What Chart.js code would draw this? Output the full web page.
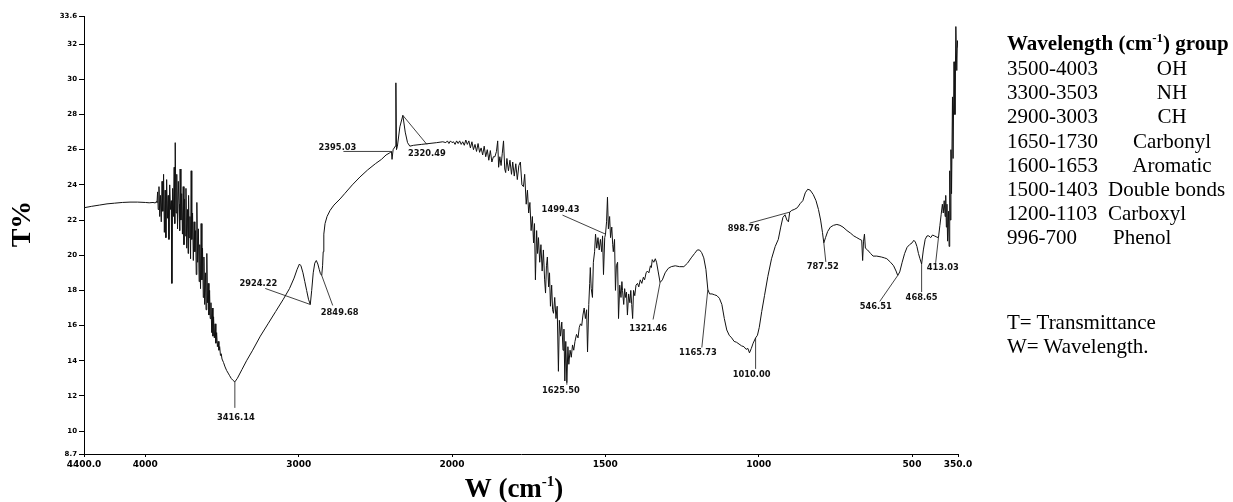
<!DOCTYPE html>
<html>
<head>
<meta charset="utf-8">
<title>FTIR spectrum</title>
<script src="https://cdn.jsdelivr.net/npm/chart.js@4.4.1/dist/chart.umd.min.js"></script>
<style>
  html, body { margin: 0; padding: 0; background: #fff; }
  #wrap { position: relative; width: 1233px; height: 502px; overflow: hidden; background: #fff; }
  #c { position: absolute; left: 0; top: 0; }
  .side { position: absolute; left: 1007px; font-family: 'Liberation Serif', 'Times New Roman', serif;
          font-size: 21px; color: #000; white-space: nowrap; }
  #groups { top: 30px; }
  #groups .head { font-weight: bold; line-height: 26px; }
  #groups .head sup { font-size: 13px; line-height: 0; vertical-align: 8px; }
  #groups .row { line-height: 24.2px; }
  #groups .rng { display: inline-block; width: 101px; }
  #groups .grp { display: inline-block; width: 128px; }
  #groups .grp.c { text-align: center; }
  #groups .grp.l { text-align: left; }
  #groups .grp.p { text-align: left; padding-left: 5px; }
  #notes { top: 310px; line-height: 24px; }
</style>
</head>
<body>
<div id="wrap">
  <canvas id="c" width="1233" height="502"></canvas>
  <div id="groups" class="side"></div>
  <div id="notes" class="side"></div>
</div>
<script>
// ---- spectrum, [wavenumber cm-1, transmittance %], high to low wavenumber ----
const SEG_BASELINE = [
  [4400,22.70],[4350,22.78],[4300,22.85],[4250,22.92],[4200,22.96],[4150,23.00],[4100,23.02],
  [4050,23.02],[4000,23.00],[3975,22.98],[3950,23.00],[3935,22.97],[3928,23.05]
];
const SEG_OH_NOISE = [
  [3924,23.0],[3920,23.6],[3916,22.6],[3911,23.9],[3906,22.2],[3901,23.4],[3896,21.9],[3891,24.2],
  [3886,22.5],[3881,24.6],[3876,21.3],[3871,23.7],[3866,21.0],[3861,24.3],[3856,22.1],[3851,23.4],
  [3846,20.9],[3841,24.0],[3836,22.6],[3831,23.1],[3827,18.4],[3822,23.8],[3817,22.2],[3812,25.0],
  [3808,21.8],[3805,26.4],[3800,22.4],[3795,24.6],[3790,21.5],[3785,24.2],[3780,22.9],[3776,21.4],
  [3773,24.9],[3768,22.0],[3763,23.5],[3758,21.2],[3753,23.9],[3748,20.6],[3744,23.2],[3740,21.1],
  [3735,23.8],[3730,20.4],[3725,22.6],[3721,20.1],[3718,23.4],[3714,21.0],[3709,22.2],[3705,19.8],
  [3701,24.8],[3697,20.9],[3692,22.4],[3687,19.7],[3682,21.9],[3677,20.2],[3672,21.4],[3668,18.9],
  [3664,23.0],[3659,19.6],[3654,21.5],[3649,18.5],[3645,20.6],[3640,18.1],[3636,21.8],[3631,18.6],
  [3627,20.4],[3622,17.6],[3618,19.9],[3613,17.2],[3608,19.0],[3604,16.9],[3599,20.1],[3595,17.3],
  [3590,18.4],[3585,16.6],[3581,18.0],[3577,16.4],[3572,17.3],[3567,15.6],[3563,17.0],[3559,15.4],
  [3555,16.5],[3550,15.3],[3545,16.1],[3540,15.0],[3535,15.6],[3530,14.8],[3525,15.1],[3520,14.6],
  [3515,14.8],[3510,14.3],[3505,14.4],[3500,14.1]
];
const SEG_OH_BAND = [
  [3490,13.9],[3480,13.65],[3470,13.45],[3460,13.3],[3450,13.15],[3440,13.0],[3430,12.9],
  [3416.14,12.8],[3400,13.0],[3370,13.5],[3340,14.0],[3300,14.6],[3250,15.4],[3200,16.1],
  [3150,16.8],[3100,17.5],[3060,18.1],[3030,18.7],[3010,19.2],[2995,19.5]
];
const SEG_CH = [
  [2985,19.4],[2972,19.0],[2960,18.5],[2948,18.0],[2936,17.5],[2924.22,17.2],[2915,18.0],[2905,19.0],
  [2895,19.55],[2885,19.7],[2875,19.5],[2866,19.2],[2858,18.95],[2849.68,18.85],[2844,19.4],
  [2840,20.2],[2836,21.2],[2828,21.8],[2815,22.2],[2795,22.55],[2770,22.85],[2730,23.2],
  [2700,23.5],[2650,24.0],[2600,24.45],[2550,24.85],[2500,25.2],[2460,25.45],[2430,25.7],
  [2410,25.8],[2400,25.85]
];
const SEG_CO2 = [
  [2395.03,25.9],[2391,25.45],[2384,26.0],[2370,26.2],[2366,29.8],[2362,26.0],[2356,26.2],
  [2340,27.3],[2320.49,27.95],[2305,27.0],[2290,26.4],[2275,26.2],[2250,26.25],[2200,26.3],
  [2150,26.35],[2100,26.4],[2060,26.45],[2040,26.4],[2030,26.5],[2020,26.35],[2010,26.5],[2000,26.4]
];
const SEG_AMIDE_NOISE = [
  [1995,26.45],[1990,26.3],[1985,26.5],[1980,26.35],[1975,26.5],[1970,26.3],[1965,26.45],[1960,26.25],
  [1955,26.55],[1950,26.3],[1945,26.5],[1940,26.1],[1935,26.45],[1930,26.0],[1925,26.3],[1920,25.9],
  [1915,26.35],[1910,25.85],[1905,26.1],[1900,25.7],[1895,26.2],[1890,25.6],[1885,26.0],[1880,25.4],
  [1875,25.95],[1870,25.3],[1865,25.6],[1860,25.6],[1855,25.9],[1851,26.5],[1848,25.0],[1844,25.6],
  [1840,25.1],[1836,25.8],[1832,26.5],[1828,24.9],[1825,24.7],[1821,25.5],[1816,24.8],[1811,25.4],
  [1806,24.6],[1802,25.3],[1797,24.5],[1792,25.2],[1787,24.3],[1782,25.1],[1777,25.3],[1772,24.0],
  [1767,23.9],[1763,24.6],[1758,22.9],[1754,23.7],[1750,22.4],[1746,23.0],[1742,21.4],[1738,22.2],
  [1734,20.7],[1731,21.8],[1728,18.6],[1724,21.4],[1721,20.1],[1718,21.0],[1714,19.6],[1710,20.6],
  [1706,19.1],[1702,20.3],[1698,18.6],[1695,17.85],[1692,19.4],[1689,19.9],[1685,18.2],[1682,19.0],
  [1679,17.1],[1675,18.3],[1672,16.9],[1669,16.7],[1665,17.6],[1661,16.4],[1657,17.1],[1653,13.4],
  [1650,16.3],[1646,15.4],[1642,16.2],[1638,14.6],[1635,15.8],[1632,12.85],[1629,15.1],[1625.50,12.75],
  [1622,14.8],[1619,13.8],[1615,14.6],[1611,14.2],[1607,14.9],[1603,14.6],[1599,15.1],[1594,15.5],
  [1589,15.3],[1585,15.9],[1581,16.1],[1577,16.0],[1573,16.6],[1569,17.0],[1565,16.4],[1561,16.9],
  [1558,14.5],[1554,17.2],[1551,18.4],[1549,19.3],[1546,18.1],[1542,17.6],[1539,19.6],[1535,20.2],
  [1532,21.2],[1528,20.4],[1524,21.0],[1520,20.3],[1516,20.9],[1512,20.2],[1509,21.1],[1506,18.9],
  [1502,21.0],[1499.43,21.2],[1496,21.9],[1493,23.3],[1490,21.5],[1486,22.2],[1483,21.0],[1479,21.6],
  [1476,20.6],[1474,20.2],[1470,20.9],[1467,18.0],[1464,19.4],[1460,19.6],[1457,16.4],[1453,18.3],
  [1449,17.6],[1446,18.5],[1444,18.0],[1440,17.2],[1437,18.1],[1434,17.6],[1431,17.9],[1428,16.6],
  [1424,17.8],[1420,17.3],[1417,18.0],[1414,17.2],[1411,16.4],[1408,18.0],[1404,17.7],[1400,18.3],
  [1395,18.4],[1391,18.2],[1386,18.6],[1381,18.4],[1376,18.75],[1372,18.6],[1367,19.0],[1363,19.1],
  [1358,19.0],[1353,19.4],[1350,19.3],[1347,19.75],[1342,19.6],[1337,19.8],[1333,19.6],[1328,19.1]
];
const SEG_FINGERPRINT = [
  [1321.46,18.45],[1314,18.6],[1305,19.0],[1295,19.25],[1285,19.35],[1272,19.4],[1258,19.35],
  [1244,19.35],[1232,19.55],[1220,19.85],[1209,20.1],[1200,20.3],[1193,20.3],[1186,20.15],
  [1179,19.85],[1172,19.2],[1165.73,18.05],[1160,17.8],[1152,17.8],[1144,17.75],[1136,17.7],
  [1128,17.55],[1120,17.2],[1112,16.4],[1104,15.75],[1096,15.45],[1088,15.3],[1080,15.1],
  [1072,15.05],[1064,14.95],[1056,14.85],[1048,14.8],[1041,14.65],[1035,14.7],[1030,14.45],
  [1024,14.7],[1018,15.0],[1010.00,15.3],[1004,15.45],[998,15.9],[990,16.8],[981,17.7],[970,18.8],
  [958,19.8],[946,20.5],[936,20.9],[928,21.6],[921,22.15],[914,22.3],[908,22.0],[903,21.9],
  [898.76,22.45],[892,22.55],[884,22.6],[874,22.7],[864,22.95],[856,23.1],[848,23.55],[840,23.75],
  [832,23.7],[822,23.45],[813,23.1],[805,22.6],[798,22.0],[792,21.3],[787.52,20.7],[782,21.0],
  [775,21.35],[766,21.6],[756,21.7],[745,21.75],[735,21.7],[725,21.6],[712,21.4],[700,21.25],
  [690,21.1],[680,21.0],[670,20.9],[664,20.85],[661,19.7],[658,20.8],[655,21.2],[652,20.4],
  [645,20.3],[635,20.1],[627,19.95],[615,19.95],[600,19.9],[590,19.85],[582,19.8],[570,19.6],
  [560,19.4],[552,19.1],[546.51,18.85],[540,19.05],[532,19.6],[524,20.1],[516,20.45],[508,20.6],
  [500,20.7],[494,20.85],[489,20.75],[484,20.5],[479,20.1],[474,19.8],[468.65,19.5],[463,20.3],
  [457,20.9],[451,21.1],[445,21.1],[439,21.0],[433,21.15],[427,21.1],[421,21.05],[416,21.0],
  [413.03,21.1],[409,21.7],[405,22.3],[401,22.9],[398,22.4],[395,23.1],[392,22.2],[390,23.4],
  [388,21.6],[386,22.9],[384,20.8],[381,22.5],[379,20.5],[377,24.8],[375,22.0],[373,26.0],
  [371,23.5],[368,29.0],[366,25.5],[363,31.0],[360,28.0],[357,33.0],[354,30.5],[352,32.2],[350,31.8]
];

// ---- labelled band positions (cm-1) ----
const PEAKS = [3416.14, 2924.22, 2849.68, 2395.03, 2320.49, 1625.50, 1499.43, 1321.46,
               1165.73, 1010.00, 898.76, 787.52, 546.51, 468.65, 413.03];

// ---- axis ticks ----
const X_TICKS = [4400, 4000, 3000, 2000, 1500, 1000, 500, 350];
const X_TICK_LABELS = ['4400.0', '4000', '3000', '2000', '1500', '1000', '500', '350.0'];
const Y_TICKS = [8.7, 10, 12, 14, 16, 18, 20, 22, 24, 26, 28, 30, 32, 33.6];
const Y_TICK_LABELS = ['8.7', '10', '12', '14', '16', '18', '20', '22', '24', '26', '28', '30', '32', '33.6'];

// ---- functional group table ----
const RANGES = ['3500-4003', '3300-3503', '2900-3003', '1650-1730', '1600-1653', '1500-1403', '1200-1103', '996-700'];
const GROUPS = ['OH', 'NH', 'CH', 'Carbonyl', 'Aromatic', 'Double bonds', 'Carboxyl', 'Phenol'];
const NOTES = ['T= Transmittance', 'W= Wavelength.'];

// ---- presentation ----
const GROUP_ALIGN = ['c', 'c', 'c', 'c', 'c', 'l', 'l', 'p'];
// label text offset (dx, dy) and leader end (dx, dy), px from the band point
const PEAK_LAYOUT = [
  [1, 36, 0, 26], [-52, -21, -45, -16], [18, 37, 11, 30], [-54, -4, -48, 0],
  [24, 38, 24, 29], [-6, 8, 0, 2], [-45, -24, -43, -19], [-12, 46, -7, 37],
  [-10, 63, -6, 58], [-4, 37, 0, 31], [-46, 17, -40, 11], [-1, 24, 2, 19],
  [-22, 31, -18, 26], [0, 34, 0, 28], [4, 32, -3, 27]
];

const SPECTRUM = [].concat(SEG_BASELINE, SEG_OH_NOISE, SEG_OH_BAND, SEG_CH, SEG_CO2,
                           SEG_AMIDE_NOISE, SEG_FINGERPRINT);

// Wavenumber axis as printed by the spectrometer: 4400-2000 cm-1 at half the
// density of 2000-350 cm-1.
const WN_HIGH = 4400, WN_BREAK = 2000, WN_LOW = 350;
class SplitWavenumberScale extends Chart.LinearScale {
  _unit(v) {
    return v >= WN_BREAK ? (WN_HIGH - v) * 0.5 : (WN_HIGH - WN_BREAK) * 0.5 + (WN_BREAK - v);
  }
  _fromUnit(u) {
    const h = (WN_HIGH - WN_BREAK) * 0.5;
    return u <= h ? WN_HIGH - u * 2 : WN_BREAK - (u - h);
  }
  getPixelForValue(v) {
    return this.getPixelForDecimal(this._unit(v) / this._unit(WN_LOW));
  }
  getValueForPixel(p) {
    return this._fromUnit(this.getDecimalForPixel(p) * this._unit(WN_LOW));
  }
}
SplitWavenumberScale.id = 'splitwn';
SplitWavenumberScale.defaults = {};
Chart.register(SplitWavenumberScale);

// table on the right
(function buildSide() {
  const g = document.getElementById('groups');
  const head = document.createElement('div');
  head.className = 'head';
  head.innerHTML = 'Wavelength (cm<sup>-1</sup>) group';
  g.appendChild(head);
  RANGES.forEach((r, i) => {
    const row = document.createElement('div');
    row.className = 'row';
    const a = document.createElement('span'); a.className = 'rng'; a.textContent = r;
    const b = document.createElement('span'); b.className = 'grp ' + GROUP_ALIGN[i]; b.textContent = GROUPS[i];
    row.appendChild(a); row.appendChild(b);
    g.appendChild(row);
  });
  const n = document.getElementById('notes');
  NOTES.forEach(t => { const d = document.createElement('div'); d.textContent = t; n.appendChild(d); });
})();

const INK = '#111';

const peakLabels = {
  id: 'peakLabels',
  afterDatasetsDraw(chart) {
    const { ctx, scales: { x, y } } = chart;
    ctx.save();
    ctx.strokeStyle = INK;
    ctx.fillStyle = INK;
    ctx.lineWidth = 0.8;
    ctx.font = "bold 8.3px 'DejaVu Sans'";
    ctx.textAlign = 'center';
    ctx.textBaseline = 'middle';
    PEAKS.forEach((w, i) => {
      const pt = SPECTRUM.find(p => p[0] === w);
      const px = x.getPixelForValue(w), py = y.getPixelForValue(pt[1]);
      const [tdx, tdy, ldx, ldy] = PEAK_LAYOUT[i];
      if (ldx || ldy) {
        ctx.beginPath();
        ctx.moveTo(px, py);
        ctx.lineTo(px + ldx, py + ldy);
        ctx.stroke();
      }
      ctx.fillText(w.toFixed(2), px + tdx, py + tdy);
    });
    ctx.restore();
  },
  afterDraw(chart) {
    const { ctx } = chart;
    ctx.save();
    ctx.fillStyle = '#000';
    // y title
    ctx.translate(23, 224);
    ctx.rotate(-Math.PI / 2);
    ctx.font = "bold 28px 'Liberation Serif'";
    ctx.textAlign = 'center';
    ctx.textBaseline = 'middle';
    ctx.fillText('T%', 0, 0);
    ctx.restore();

    // x title with superscript
    ctx.save();
    ctx.fillStyle = '#000';
    ctx.textAlign = 'left';
    ctx.textBaseline = 'alphabetic';
    const big = "bold 27px 'Liberation Serif'", small = "bold 15px 'Liberation Serif'";
    ctx.font = big; const wa = ctx.measureText('W (cm').width, wc = ctx.measureText(')').width;
    ctx.font = small; const wb = ctx.measureText('-1').width;
    let sx = 514 - (wa + wb + wc) / 2;
    ctx.font = big; ctx.fillText('W (cm', sx, 497); sx += wa;
    ctx.font = small; ctx.fillText('-1', sx, 486); sx += wb;
    ctx.font = big; ctx.fillText(')', sx, 497);
    ctx.restore();
  }
};

new Chart(document.getElementById('c'), {
  type: 'line',
  data: {
    datasets: [{
      data: SPECTRUM.map(p => ({ x: p[0], y: p[1] })),
      borderColor: INK,
      borderWidth: 1,
      pointRadius: 0,
      tension: 0,
      fill: false
    }]
  },
  options: {
    responsive: false,
    animation: false,
    devicePixelRatio: 1,
    parsing: true,
    layout: { padding: { left: 0, top: 16, right: 275, bottom: 0 } },
    plugins: { legend: { display: false }, tooltip: { enabled: false } },
    scales: {
      x: {
        type: 'splitwn',
        min: WN_LOW,
        max: WN_HIGH,
        afterBuildTicks: s => { s.ticks = X_TICKS.map(v => ({ value: v })); },
        afterFit: s => { s.height = 48; },
        grid: { drawOnChartArea: false, drawTicks: true, tickLength: 3, color: '#000', lineWidth: 1 },
        border: { display: true, color: '#000', width: 1 },
        ticks: {
          autoSkip: false, maxRotation: 0, padding: 2, color: '#000',
          font: { family: 'DejaVu Sans', size: 9, weight: 'bold' },
          callback: (v, i) => X_TICK_LABELS[i]
        }
      },
      y: {
        type: 'linear',
        min: 8.7,
        max: 33.6,
        afterBuildTicks: s => { s.ticks = Y_TICKS.map(v => ({ value: v })); },
        afterFit: s => { s.width = 84; },
        grid: { drawOnChartArea: false, drawTicks: true, tickLength: 5, color: '#000', lineWidth: 1 },
        border: { display: true, color: '#000', width: 1 },
        ticks: {
          autoSkip: false, padding: 2, color: '#000',
          font: { family: 'DejaVu Sans', size: 7, weight: 'bold' },
          callback: (v, i) => Y_TICK_LABELS[i]
        }
      }
    }
  },
  plugins: [peakLabels]
});
</script>
</body>
</html>
